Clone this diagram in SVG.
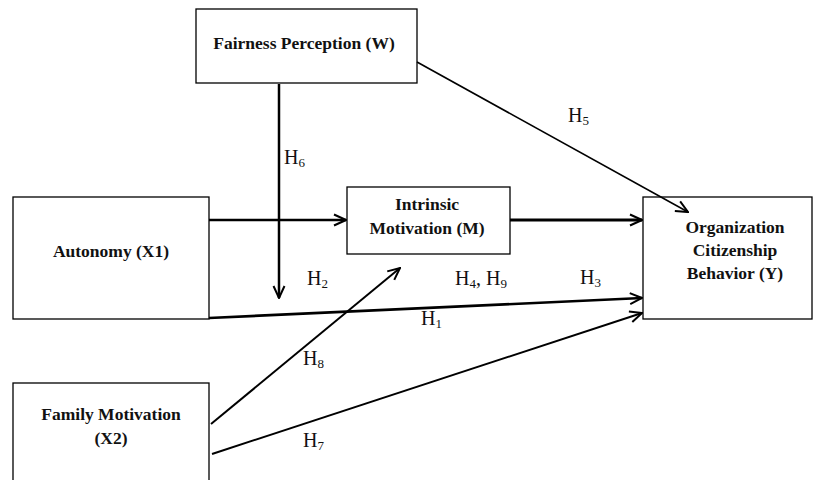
<svg xmlns="http://www.w3.org/2000/svg" width="814" height="480" viewBox="0 0 814 480">
<style>
.box{fill:#fff;stroke:#000;stroke-width:1.3}
.nt{font-family:"Liberation Serif",serif;font-weight:bold;font-size:17.5px;fill:#111;text-anchor:middle}
.lb{font-family:"Liberation Serif",serif;font-size:20px;fill:#111}
.sb{font-size:13px}
.ln{stroke:#000;fill:none}
</style>
<defs>
<marker id="ah" viewBox="0 0 14 14" refX="13" refY="7" markerWidth="14" markerHeight="14" markerUnits="userSpaceOnUse" orient="auto">
<path d="M1,1.5 L13,7 L1,12.5" fill="none" stroke="#000" stroke-width="2"/>
</marker>
</defs>
<rect width="814" height="480" fill="#fff"/>
<g id="fairness">
<rect class="box" x="196" y="9" width="221" height="74"/>
<text class="nt" x="304" y="49">Fairness Perception (W)</text>
</g>
<g id="autonomy">
<rect class="box" x="13" y="197" width="196" height="122"/>
<text class="nt" x="111" y="257">Autonomy (X1)</text>
</g>
<g id="intrinsic">
<rect class="box" x="347" y="187" width="163" height="67"/>
<text class="nt" x="427" y="210">Intrinsic</text>
<text class="nt" x="427" y="234">Motivation (M)</text>
</g>
<g id="ocb">
<rect class="box" x="643" y="197" width="169" height="122"/>
<text class="nt" x="735" y="233">Organization</text>
<text class="nt" x="735" y="256">Citizenship</text>
<text class="nt" x="735" y="279">Behavior (Y)</text>
</g>
<g id="family">
<rect class="box" x="13" y="383" width="196" height="100"/>
<text class="nt" x="111" y="420">Family Motivation</text>
<text class="nt" x="111" y="444">(X2)</text>
</g>
<g id="connectors">
<line class="ln" x1="279" y1="84" x2="279" y2="298" stroke-width="2.5" marker-end="url(#ah)"/>
<line class="ln" x1="209" y1="220" x2="346" y2="220" stroke-width="2.5" marker-end="url(#ah)"/>
<line class="ln" x1="510" y1="220" x2="642" y2="220" stroke-width="3" marker-end="url(#ah)"/>
<line class="ln" x1="417" y1="62" x2="688" y2="212" stroke-width="1.6" marker-end="url(#ah)"/>
<line class="ln" x1="209" y1="318" x2="642" y2="298" stroke-width="2.6" marker-end="url(#ah)"/>
<line class="ln" x1="211" y1="424" x2="400" y2="268" stroke-width="2" marker-end="url(#ah)"/>
<line class="ln" x1="212" y1="454" x2="642" y2="313" stroke-width="2" marker-end="url(#ah)"/>
</g>
<g id="labels">
<text class="lb" x="284" y="164">H<tspan class="sb" dy="3">6</tspan></text>
<text class="lb" x="307" y="285">H<tspan class="sb" dy="3">2</tspan></text>
<text class="lb" x="455" y="285">H<tspan class="sb" dy="3">4</tspan><tspan dy="-3">, H</tspan><tspan class="sb" dy="3">9</tspan></text>
<text class="lb" x="580" y="284">H<tspan class="sb" dy="3">3</tspan></text>
<text class="lb" x="568" y="122">H<tspan class="sb" dy="3">5</tspan></text>
<text class="lb" x="421" y="325">H<tspan class="sb" dy="3">1</tspan></text>
<text class="lb" x="303" y="365">H<tspan class="sb" dy="3">8</tspan></text>
<text class="lb" x="303" y="447">H<tspan class="sb" dy="3">7</tspan></text>
</g>
</svg>
